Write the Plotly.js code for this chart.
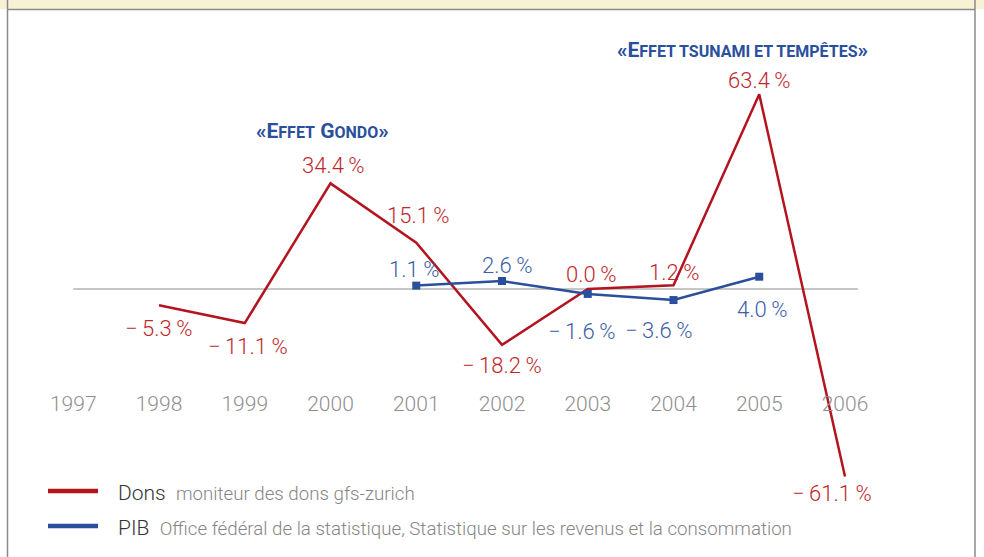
<!DOCTYPE html>
<html>
<head>
<meta charset="utf-8">
<script src="https://cdn.plot.ly/plotly-3.0.1.min.js"></script>
<style>html,body{margin:0;padding:0;background:#fff;} #chart{width:984px;height:557px;}</style>
</head>
<body>
<div id="chart"></div>
<script>
// ---- data ----
const years = [1997, 1998, 1999, 2000, 2001, 2002, 2003, 2004, 2005, 2006];
const yearLabels = ["1997", "1998", "1999", "2000", "2001", "2002", "2003", "2004", "2005", "2006"];
const donsYears = [1998, 1999, 2000, 2001, 2002, 2003, 2004, 2005, 2006];
const donsValues = [-5.3, -11.1, 34.4, 15.1, -18.2, 0.0, 1.2, 63.4, -61.1];
const pibYears = [2001, 2002, 2003, 2004, 2005];
const pibValues = [1.1, 2.6, -1.6, -3.6, 4.0];
const donsName = "Dons";
const donsSource = "moniteur des dons gfs-zurich";
const pibName = "PIB";
const pibSource = "Office fédéral de la statistique, Statistique sur les revenus et la consommation";

// ---- styling / layout helpers ----
const RED = "#b3141f", RED_TXT = "#c0272d", BLUE = "#2a4f9c", BLUE_TXT = "#3b5ea8";
const W = 984, H = 557;
const px = v => v / W;              // pixel -> paper x
const py = v => 1 - v / H;          // pixel -> paper y
const FONT = "Roboto, 'Open Sans', sans-serif";

// label offsets (pixels) relative to each point
const donsOffsets = [[-1,-23],[3,-23],[3,18],[2,27],[0,-21],[3,15],[0,13],[0,14],[-13,-17]];
const pibOffsets = [[-2,16],[5,16],[-6,-38],[-15,-30],[3,-33]];

const THIN = "\u2009";
const fmt = v => (v < 0 ? "\u2212" + THIN + Math.abs(v).toFixed(1) : v.toFixed(1)) + THIN + "%";

const annotations = [];
donsYears.forEach((x, i) => annotations.push({
  x: x, y: donsValues[i], xref: "x", yref: "y", text: fmt(donsValues[i]), showarrow: false,
  xshift: donsOffsets[i][0], yshift: donsOffsets[i][1],
  font: {family: FONT, size: 22, color: RED_TXT, weight: 300}
}));
pibYears.forEach((x, i) => annotations.push({
  x: x, y: pibValues[i], xref: "x", yref: "y", text: fmt(pibValues[i]), showarrow: false,
  xshift: pibOffsets[i][0], yshift: pibOffsets[i][1],
  font: {family: FONT, size: 22, color: BLUE_TXT, weight: 300}
}));
const sc = s => `<span style="font-size:16px">${s}</span>`;
annotations.push({
  x: 2000, y: 34.4, xref: "x", yref: "y", showarrow: false, xshift: -8, yshift: 52,
  text: "«E" + sc("FFET") + " G" + sc("ONDO") + "»",
  font: {family: FONT, size: 21, color: BLUE, weight: 700}
});
annotations.push({
  x: 2005, y: 63.4, xref: "x", yref: "y", showarrow: false, xshift: -17, yshift: 44,
  text: "«E" + sc("FFET TSUNAMI ET TEMPÊTES") + "»",
  font: {family: FONT, size: 21, color: BLUE, weight: 700}
});
// legend
annotations.push({
  x: px(116), y: py(493), xref: "paper", yref: "paper", xanchor: "left", yanchor: "middle", showarrow: false,
  text: donsName + "  <span style=\"font-size:18.7px;color:#858585\">" + donsSource + "</span>",
  font: {family: FONT, size: 21, color: "#333", weight: 300}
});
annotations.push({
  x: px(116), y: py(528), xref: "paper", yref: "paper", xanchor: "left", yanchor: "middle", showarrow: false,
  text: pibName + "  <span style=\"font-size:18.7px;color:#858585\">" + pibSource + "</span>",
  font: {family: FONT, size: 21, color: "#333", weight: 300}
});

const shapes = [
  // top beige band
  {type: "rect", xref: "paper", yref: "paper", x0: px(0), x1: px(984), y0: py(0), y1: py(9),
   fillcolor: "#f8f2d5", line: {width: 0}, layer: "below"},
  {type: "line", xref: "paper", yref: "paper", x0: px(7.5), x1: px(975), y0: py(9.5), y1: py(9.5),
   line: {color: "#8a8a8a", width: 1.5}},
  {type: "line", xref: "paper", yref: "paper", x0: px(7.5), x1: px(7.5), y0: py(0), y1: py(557),
   line: {color: "#8a8a8a", width: 1.5}},
  {type: "line", xref: "paper", yref: "paper", x0: px(975), x1: px(975), y0: py(0), y1: py(557),
   line: {color: "#8a8a8a", width: 1.5}},
  // zero line
  {type: "line", xref: "x", yref: "y", x0: 1997, x1: 2006.15, y0: 0, y1: 0,
   line: {color: "#8c8c8c", width: 1}, layer: "below"},
  // legend keys
  {type: "line", xref: "paper", yref: "paper", x0: px(48), x1: px(98), y0: py(491), y1: py(491),
   line: {color: RED, width: 4.5}},
  {type: "line", xref: "paper", yref: "paper", x0: px(48), x1: px(98), y0: py(526), y1: py(526),
   line: {color: BLUE, width: 4.5}}
];

const traces = [
  {x: donsYears, y: donsValues, type: "scatter", mode: "lines", name: donsName,
   line: {color: RED, width: 2.5}, hoverinfo: "x+y"},
  {x: pibYears, y: pibValues, type: "scatter", mode: "lines+markers", name: pibName,
   line: {color: BLUE, width: 2.5}, marker: {symbol: "square", size: 8, color: BLUE}, hoverinfo: "x+y"}
];

// scale: x pixel = 159 + (yr-1998)*85.75 ; y pixel = 289 - 3.07*v
const xr = [1998 - 159/85.75, 1998 + (984-159)/85.75];
const yr = [-(557-289)/3.07, 289/3.07];

const layout = {
  width: W, height: H,
  margin: {l: 0, r: 0, t: 0, b: 0, autoexpand: false},
  paper_bgcolor: "#fff", plot_bgcolor: "rgba(0,0,0,0)",
  showlegend: false,
  xaxis: {range: xr, domain: [0, 1], anchor: "free", position: (557-389)/557,
          tickmode: "array", tickvals: years, ticktext: yearLabels, ticks: "",
          showgrid: false, zeroline: false, showline: false, fixedrange: true,
          tickfont: {family: FONT, size: 21, color: "#8f8f8f", weight: 300}},
  yaxis: {range: yr, domain: [0, 1], visible: false, fixedrange: true},
  shapes: shapes,
  annotations: annotations
};

Plotly.newPlot("chart", traces, layout, {displayModeBar: false, staticPlot: true});
</script>
</body>
</html>
